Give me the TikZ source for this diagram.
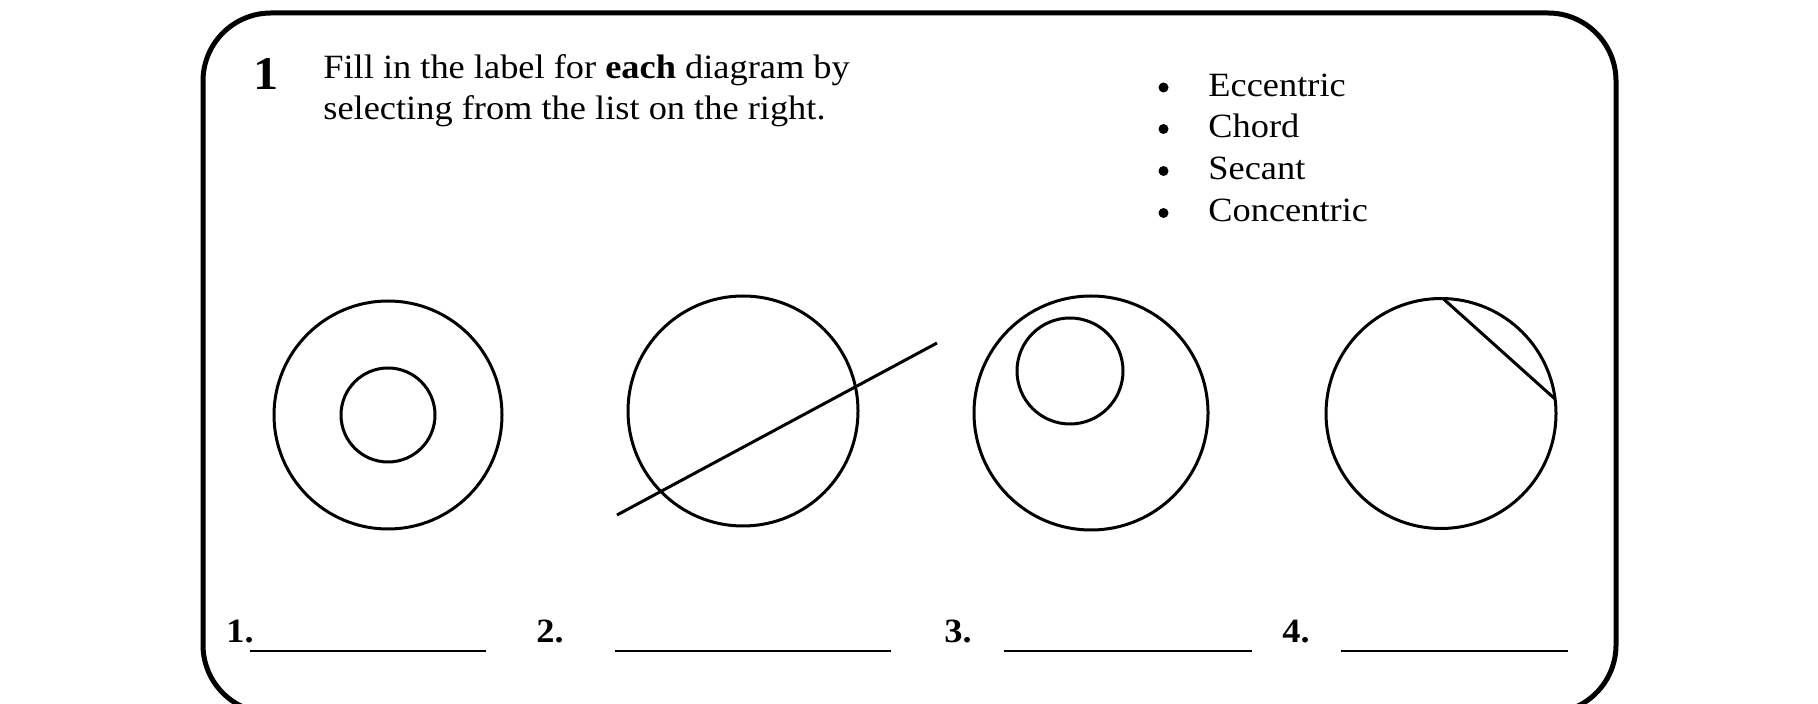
\documentclass[tikz,border=0pt]{standalone}
\usepackage{fontspec}
\setmainfont[FakeStretch=1.07]{Liberation Serif}
\begin{document}
\begin{tikzpicture}[x=0.5pt,y=-0.5pt,
  txt/.style={anchor=base west,inner sep=0pt,font=\fontsize{17}{20.5}\selectfont},
  bul/.style={circle,fill=black,draw=none,inner sep=0pt,minimum size=5pt},
  num/.style={anchor=base west,inner sep=0pt,font=\fontsize{17}{20.5}\selectfont\bfseries},
  ring/.style={draw=black,line width=1.5pt},
  seg/.style={draw=black,line width=1.5pt},
  blank/.style={draw=black,line width=1pt}]
\useasboundingbox (0,0) rectangle (1818,704);
\clip (0,0) rectangle (1818,704);
\fill[white] (0,0) rectangle (1818,704);
% frame
\draw[line width=2.5pt,rounded corners=34pt] (203,13) rectangle (1616,713);
% heading
\node[anchor=base west,inner sep=0pt,font=\fontsize{23.5}{26}\selectfont\bfseries] (q) at (253,90) {1};
\node[txt] (l1) at (323,79) {Fill in the label for \textbf{each} diagram by};
\node[txt] (l2) at (323,120) {selecting from the list on the right.};
% list
\node[bul] (b1) at (1163.5,87.5) {};
\node[txt] (o1) at (1208,97) {Eccentric};
\node[bul] (b2) at (1163.5,129) {};
\node[txt] (o2) at (1208,138) {Chord};
\node[bul] (b3) at (1163.5,171) {};
\node[txt] (o3) at (1208,180) {Secant};
\node[bul] (b4) at (1163.5,213) {};
\node[txt] (o4) at (1208,222) {Concentric};
% diagram 1: concentric
\coordinate (c1) at (388,415);
\draw[ring] (c1) circle[radius=57pt];
\draw[ring] (c1) circle[radius=23.5pt];
% diagram 2: secant
\coordinate (c2) at (743,411);
\draw[ring] (c2) circle[radius=57.5pt];
\coordinate (s1) at (617,515);
\coordinate (s2) at (937,343);
\draw[seg] (s1) -- (s2);
% diagram 3: eccentric
\coordinate (c3) at (1091,413);
\draw[ring] (c3) circle[radius=58.5pt];
\coordinate (c3i) at (1070,371);
\draw[ring] (c3i) circle[radius=26.5pt];
% diagram 4: chord
\coordinate (c4) at (1441,413.5);
\draw[ring] (c4) circle[radius=57.5pt];
\coordinate (h1) at (1443.5,299);
\coordinate (h2) at (1555,399);
\draw[seg] (h1) -- (h2);
% answer labels
\node[num] (n1) at (226,642) {1.};
\coordinate (u1a) at (250,651); \coordinate (u1b) at (486,651);
\draw[blank] (u1a) -- (u1b);
\node[num] (n2) at (536,642) {2.};
\coordinate (u2a) at (614.5,651); \coordinate (u2b) at (891,651);
\draw[blank] (u2a) -- (u2b);
\node[num] (n3) at (944,642) {3.};
\coordinate (u3a) at (1003.5,651); \coordinate (u3b) at (1252,651);
\draw[blank] (u3a) -- (u3b);
\node[num] (n4) at (1282,642) {4.};
\coordinate (u4a) at (1341,651); \coordinate (u4b) at (1568,651);
\draw[blank] (u4a) -- (u4b);
\end{tikzpicture}
\end{document}
